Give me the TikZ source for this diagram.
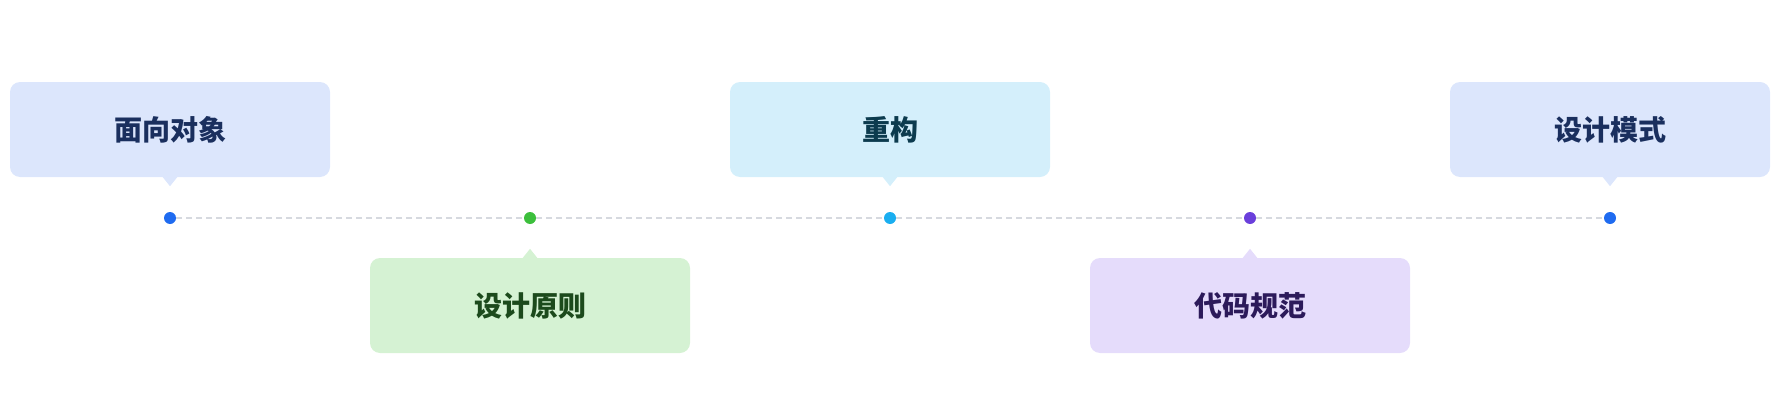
\documentclass[tikz,border=0pt]{standalone}
\usepackage{fontspec}
\newfontfamily\cjk{Noto Sans CJK SC}
\definecolor{bluefill}{HTML}{DCE6FC}
\definecolor{bluedot}{HTML}{1F6BF0}
\definecolor{bluetext}{HTML}{1A2F5E}
\definecolor{greenfill}{HTML}{D5F2D3}
\definecolor{greendot}{HTML}{3CBF3C}
\definecolor{greentext}{HTML}{1C4A1C}
\definecolor{cyanfill}{HTML}{D4EFFB}
\definecolor{cyandot}{HTML}{1AAEF0}
\definecolor{cyantext}{HTML}{0C3B4E}
\definecolor{purplefill}{HTML}{E5DCFB}
\definecolor{purpledot}{HTML}{6A3FDB}
\definecolor{purpletext}{HTML}{2C1A5A}
\definecolor{linegray}{HTML}{D6D9DF}
\begin{document}
\begin{tikzpicture}[x=1pt,y=-1pt,
  card/.style={rectangle, rounded corners=10pt, minimum width=320pt, minimum height=95pt,
    inner sep=0pt, font=\cjk\bfseries\fontsize{28}{32}\selectfont},
  dotnode/.style={circle, inner sep=0pt, minimum size=12pt},
  timeline/.style={draw=linegray, line width=1.3pt, dash pattern=on 6pt off 4pt}]
\useasboundingbox (0,0) rectangle (1776,404);
% dots
\node[dotnode, fill=bluedot] (d1) at (170,218) {};
\node[dotnode, fill=greendot] (d2) at (530,218) {};
\node[dotnode, fill=cyandot] (d3) at (890,218) {};
\node[dotnode, fill=purpledot] (d4) at (1250,218) {};
\node[dotnode, fill=bluedot] (d5) at (1610,218) {};
\draw[timeline] (d1) -- (d2);
\draw[timeline] (d2) -- (d3);
\draw[timeline] (d3) -- (d4);
\draw[timeline] (d4) -- (d5);
% cards
\node[card, fill=bluefill, text=bluetext] (c1) at (170,129.5) {面向对象};
\node[card, fill=greenfill, text=greentext] (c2) at (530,305.5) {设计原则};
\node[card, fill=cyanfill, text=cyantext] (c3) at (890,129.5) {重构};
\node[card, fill=purplefill, text=purpletext] (c4) at (1250,305.5) {代码规范};
\node[card, fill=bluefill, text=bluetext] (c5) at (1610,129.5) {设计模式};
% pointers
\fill[bluefill] ([xshift=-8pt,yshift=1pt]c1.south) -- ([yshift=-9pt]c1.south) -- ([xshift=8pt,yshift=1pt]c1.south) -- cycle;
\fill[cyanfill] ([xshift=-8pt,yshift=1pt]c3.south) -- ([yshift=-9pt]c3.south) -- ([xshift=8pt,yshift=1pt]c3.south) -- cycle;
\fill[bluefill] ([xshift=-8pt,yshift=1pt]c5.south) -- ([yshift=-9pt]c5.south) -- ([xshift=8pt,yshift=1pt]c5.south) -- cycle;
\fill[greenfill] ([xshift=-8pt,yshift=-1pt]c2.north) -- ([yshift=9pt]c2.north) -- ([xshift=8pt,yshift=-1pt]c2.north) -- cycle;
\fill[purplefill] ([xshift=-8pt,yshift=-1pt]c4.north) -- ([yshift=9pt]c4.north) -- ([xshift=8pt,yshift=-1pt]c4.north) -- cycle;
\end{tikzpicture}
\end{document}
